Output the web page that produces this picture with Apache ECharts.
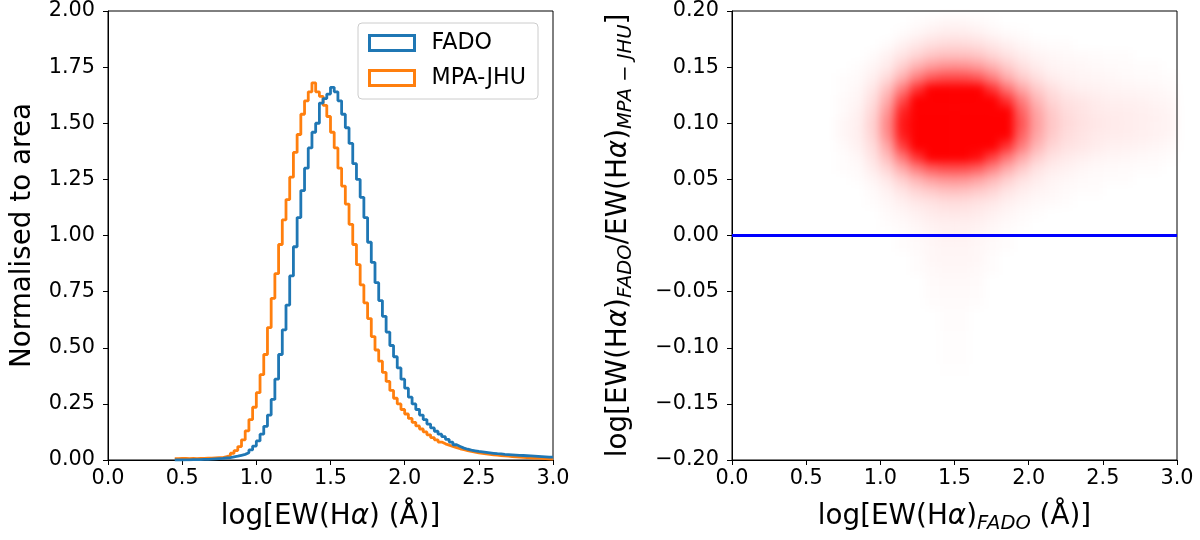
<!DOCTYPE html>
<html>
<head>
<meta charset="utf-8">
<script src="https://cdn.jsdelivr.net/npm/echarts@6/dist/echarts.min.js"></script>
<style>
html,body{margin:0;padding:0;background:#fff;}
#wrap{position:relative;width:1200px;height:540px;overflow:hidden;}
#density{position:absolute;left:0;top:0;width:1200px;height:540px;filter:blur(5px);}
#main{position:absolute;left:0;top:0;width:1200px;height:540px;}
</style>
</head>
<body>
<div id="wrap"><div id="density"></div><div id="main"></div></div>
<script>
// ---------- DATA ----------
const seriesNames = ['FADO', 'MPA-JHU'];
const binStart = 0.45;
const binWidth = 0.025;
const fadoHist = [
  0, 0, 0.001, 0.001, 0.002, 0.002, 0.002, 0.003, 0.003, 0.004,
  0.005, 0.006, 0.007, 0.009, 0.011, 0.014, 0.017, 0.021, 0.025, 0.032,
  0.045, 0.062, 0.085, 0.115, 0.150, 0.200, 0.270, 0.360, 0.470, 0.580,
  0.690, 0.820, 0.950, 1.080, 1.200, 1.300, 1.390, 1.460, 1.500, 1.590,
  1.610, 1.630, 1.660, 1.640, 1.600, 1.540, 1.480, 1.410, 1.320, 1.250,
  1.170, 1.080, 0.970, 0.880, 0.790, 0.710, 0.640, 0.570, 0.510, 0.460,
  0.410, 0.360, 0.320, 0.280, 0.250, 0.225, 0.200, 0.180, 0.160, 0.143,
  0.128, 0.115, 0.104, 0.092, 0.080, 0.068, 0.060, 0.053, 0.048, 0.044,
  0.041, 0.038, 0.036, 0.034, 0.032, 0.030, 0.028, 0.027, 0.025, 0.024,
  0.023, 0.022, 0.021, 0.020, 0.019, 0.018, 0.017, 0.016, 0.015, 0.014,
  0.013, 0.013
];
const mpaHist = [
  0.006, 0.007, 0.007, 0.006, 0.007, 0.006, 0.007, 0.007, 0.008, 0.008,
  0.009, 0.010, 0.011, 0.015, 0.020, 0.030, 0.042, 0.060, 0.090, 0.130,
  0.180, 0.235, 0.300, 0.380, 0.470, 0.590, 0.720, 0.830, 0.960, 1.070,
  1.160, 1.260, 1.370, 1.450, 1.540, 1.600, 1.640, 1.680, 1.640, 1.620,
  1.580, 1.530, 1.460, 1.390, 1.300, 1.220, 1.140, 1.050, 0.960, 0.870,
  0.780, 0.700, 0.630, 0.550, 0.490, 0.440, 0.390, 0.350, 0.310, 0.275,
  0.250, 0.225, 0.205, 0.185, 0.168, 0.152, 0.138, 0.125, 0.112, 0.100,
  0.090, 0.080, 0.072, 0.066, 0.060, 0.055, 0.050, 0.046, 0.042, 0.038,
  0.035, 0.032, 0.030, 0.027, 0.025, 0.023, 0.022, 0.020, 0.018, 0.017,
  0.015, 0.014, 0.013, 0.012, 0.011, 0.010, 0.009, 0.008, 0.007, 0.006,
  0.005, 0.004
];
// density of the right-hand scatter cloud (10 and above = solid red), cells of 0.1 x 0.01
const densityX = [0.75,0.85,0.95,1.05,1.15,1.25,1.35,1.45,1.55,1.65,1.75,1.85,1.95,2.05,2.15,2.25,2.35,2.45,2.55,2.65,2.75,2.85,2.95];
const densityY = [0.19,0.18,0.17,0.16,0.15,0.14,0.13,0.12,0.11,0.10,0.09,0.08,0.07,0.06,0.05,0.04,0.03,0.02,0.01,0.00,-0.01,-0.02,-0.03,-0.04,-0.05,-0.06,-0.07,-0.08,-0.09,-0.10,-0.11,-0.12];
const densityGrid = [
  [0,0,0,0,0,0.1,0.25,0.35,0.35,0.25,0.1,0,0,0,0,0,0,0,0,0,0,0,0],
  [0,0,0,0,0.15,0.35,0.6,0.7,0.7,0.6,0.35,0.2,0.1,0,0,0,0,0,0,0,0,0,0],
  [0,0,0,0.15,0.5,0.9,1.2,1.4,1.4,1.2,0.9,0.6,0.35,0.2,0.1,0.1,0,0,0,0,0,0,0],
  [0,0,0.15,0.5,1,1.6,2.2,2.4,2.4,2.2,1.6,1.1,0.7,0.45,0.3,0.25,0.2,0.15,0.1,0.1,0,0,0],
  [0,0.1,0.35,0.8,1.8,3,3.9,4.3,4.3,3.9,3,2,1.2,0.7,0.45,0.35,0.3,0.25,0.2,0.15,0.1,0.1,0],
  [0.1,0.2,0.6,1.4,3,5,6.5,7,7,6.5,5,3.2,2,1.2,0.7,0.5,0.4,0.35,0.3,0.25,0.2,0.15,0.1],
  [0.1,0.3,0.9,2.4,5,8,10,11,11,10,8,5.5,3.4,2,1.2,0.8,0.6,0.5,0.45,0.4,0.35,0.3,0.2],
  [0.2,0.4,1.2,3.2,7,11,13,13,13,13,11,8,5,2.8,1.6,1.1,0.9,0.7,0.6,0.55,0.5,0.4,0.3],
  [0.2,0.5,1.5,4,8.5,13,14,14,14,14,13,10,6,3.4,2,1.3,1,0.8,0.7,0.65,0.6,0.5,0.4],
  [0.3,0.6,1.7,4.5,9,13,14,14,14,14,13,10.5,6.5,3.6,2.1,1.4,1.1,0.9,0.8,0.7,0.6,0.5,0.45],
  [0.3,0.6,1.6,4.3,8.8,13,14,14,14,14,12.5,10,6,3.4,2,1.3,1,0.8,0.7,0.65,0.6,0.5,0.4],
  [0.2,0.5,1.3,3.4,7.5,11.5,13,13,13,12.5,10.5,8,5,2.8,1.6,1.1,0.9,0.7,0.55,0.5,0.45,0.35,0.25],
  [0.1,0.3,1,2.5,5.2,8,10,10.5,10.5,9.5,7.5,5.3,3.3,1.9,1.1,0.8,0.6,0.45,0.35,0.3,0.25,0.2,0.1],
  [0.1,0.2,0.7,1.6,3.2,5,6.3,6.8,6.8,6.2,4.8,3.2,2,1.1,0.7,0.5,0.35,0.25,0.2,0.15,0.1,0.1,0],
  [0,0.1,0.4,0.9,1.8,2.8,3.6,4,4,3.5,2.7,1.8,1.1,0.7,0.45,0.3,0.2,0.15,0.1,0.1,0,0,0],
  [0,0,0.2,0.5,1,1.6,2,2.3,2.3,2,1.6,1,0.65,0.45,0.3,0.2,0.1,0.1,0,0,0,0,0],
  [0,0,0.1,0.3,0.6,0.9,1.1,1.3,1.3,1.1,0.9,0.6,0.4,0.25,0.2,0.1,0,0,0,0,0,0,0],
  [0,0,0,0.2,0.35,0.55,0.75,0.85,0.85,0.75,0.55,0.35,0.2,0.1,0,0,0,0,0,0,0,0,0],
  [0,0,0,0.1,0.2,0.35,0.5,0.6,0.6,0.5,0.35,0.2,0.1,0,0,0,0,0,0,0,0,0,0],
  [0,0,0,0,0.1,0.25,0.4,0.5,0.5,0.4,0.25,0.1,0,0,0,0,0,0,0,0,0,0,0],
  [0,0,0,0,0.1,0.2,0.3,0.4,0.4,0.3,0.2,0.1,0,0,0,0,0,0,0,0,0,0,0],
  [0,0,0,0,0,0.1,0.3,0.35,0.35,0.3,0.1,0,0,0,0,0,0,0,0,0,0,0,0],
  [0,0,0,0,0,0.1,0.25,0.3,0.3,0.25,0.1,0,0,0,0,0,0,0,0,0,0,0,0],
  [0,0,0,0,0,0,0.2,0.25,0.25,0.2,0,0,0,0,0,0,0,0,0,0,0,0,0],
  [0,0,0,0,0,0,0.15,0.2,0.2,0.15,0,0,0,0,0,0,0,0,0,0,0,0,0],
  [0,0,0,0,0,0,0.1,0.15,0.15,0.1,0,0,0,0,0,0,0,0,0,0,0,0,0],
  [0,0,0,0,0,0,0,0.12,0.12,0,0,0,0,0,0,0,0,0,0,0,0,0,0],
  [0,0,0,0,0,0,0,0.1,0.1,0,0,0,0,0,0,0,0,0,0,0,0,0,0],
  [0,0,0,0,0,0,0,0.08,0.08,0,0,0,0,0,0,0,0,0,0,0,0,0,0],
  [0,0,0,0,0,0,0,0.08,0.08,0,0,0,0,0,0,0,0,0,0,0,0,0,0],
  [0,0,0,0,0,0,0,0.06,0.06,0,0,0,0,0,0,0,0,0,0,0,0,0,0],
  [0,0,0,0,0,0,0,0.05,0.05,0,0,0,0,0,0,0,0,0,0,0,0,0,0]
];
const zeroLineX = [0, 3];
const zeroLineY = [0, 0];
const xTicks = {min: 0, max: 3, interval: 0.5};
const yTicksLeft = {min: 0, max: 2, interval: 0.25};
const yTicksRight = {min: -0.2, max: 0.2, interval: 0.05};

// ---------- LAYOUT / STYLE ----------
const FONT = 'DejaVu Sans';
const TICK_FS = 20.8;
const LABEL_FS = 27.8;
const SUB_FS = 19.5;
const colors = ['#1f77b4', '#ff7f0e'];
const G1 = {left: 108, top: 11, width: 445, height: 449};
const G2 = {left: 732, top: 11, width: 445, height: 449};

const rich = {
  n: {fontFamily: FONT, fontSize: LABEL_FS, color: '#000', lineHeight: 34},
  a: {fontFamily: FONT, fontSize: LABEL_FS, fontStyle: 'italic', color: '#000', lineHeight: 34},
  s: {fontFamily: FONT, fontSize: SUB_FS, fontStyle: 'italic', color: '#000', verticalAlign: 'bottom'}
};

function stepData(hist) {
  const pts = [];
  for (let i = 0; i < hist.length; i++) {
    pts.push([+(binStart + i * binWidth).toFixed(4), hist[i]]);
  }
  pts.push([+(binStart + hist.length * binWidth).toFixed(4), hist[hist.length - 1]]);
  return pts;
}
function fmtMinus(v, d) {
  const s = Math.abs(v) < 1e-9 ? (0).toFixed(d) : v.toFixed(d);
  return s.replace('-', '\u2212');
}
function xAxisCfg(gi, name) {
  return {
    type: 'value', gridIndex: gi, min: xTicks.min, max: xTicks.max, interval: xTicks.interval,
    name: name, nameLocation: 'middle', nameGap: 40,
    nameTextStyle: {fontFamily: FONT, fontSize: LABEL_FS, color: '#000', rich: rich},
    axisLine: {show: true, onZero: false, lineStyle: {color: '#000', width: 1}},
    axisTick: {show: true, length: 5, lineStyle: {color: '#000', width: 1}},
    axisLabel: {fontFamily: FONT, fontSize: TICK_FS, color: '#000', margin: 8,
      formatter: v => fmtMinus(v, 1)},
    splitLine: {show: false}
  };
}
function yAxisCfg(gi, t, name, gap) {
  return {
    type: 'value', gridIndex: gi, min: t.min, max: t.max, interval: t.interval,
    name: name, nameLocation: 'middle', nameGap: gap,
    nameTextStyle: {fontFamily: FONT, fontSize: LABEL_FS, color: '#000', rich: rich},
    axisLine: {show: true, onZero: false, lineStyle: {color: '#000', width: 1}},
    axisTick: {show: true, length: 5, lineStyle: {color: '#000', width: 1}},
    axisLabel: {fontFamily: FONT, fontSize: TICK_FS, color: '#000', margin: 13,
      formatter: v => fmtMinus(v, 2)},
    splitLine: {show: false}
  };
}

// ---------- MAIN CHART ----------
const main = echarts.init(document.getElementById('main'), null, {renderer: 'canvas'});
main.setOption({
  animation: false,
  backgroundColor: 'transparent',
  grid: [
    Object.assign({show: true, borderColor: '#000', borderWidth: 1, backgroundColor: 'transparent'}, G1),
    Object.assign({show: true, borderColor: '#000', borderWidth: 1, backgroundColor: 'transparent'}, G2)
  ],
  xAxis: [
    xAxisCfg(0, '{n|log[EW(H}{a|\u03b1}{n|) (\u00c5)]}'),
    xAxisCfg(1, '{n|log[EW(H}{a|\u03b1}{n|)}{s|FADO}{n| (\u00c5)]}')
  ],
  yAxis: [
    yAxisCfg(0, yTicksLeft, '{n|Normalised to area}', 68),
    yAxisCfg(1, yTicksRight, '{n|log[EW(H}{a|\u03b1}{n|)}{s|FADO}{n|/EW(H}{a|\u03b1}{n|)}{s|MPA \u2212 JHU}{n|]}', 96)
  ],
  legend: {
    orient: 'vertical', left: 358, top: 23,
    padding: [9, 12, 10, 10], itemGap: 13, itemWidth: 45, itemHeight: 15,
    borderColor: '#cccccc', borderWidth: 1, borderRadius: 4,
    backgroundColor: 'rgba(255,255,255,0.8)',
    selectedMode: false,
    textStyle: {fontFamily: FONT, fontSize: 22.2, color: '#000', lineHeight: 20, padding: [0, 0, 0, 12]},
    data: seriesNames.map((n, i) => ({
      name: n, icon: 'rect',
      itemStyle: {color: 'rgba(0,0,0,0)', borderColor: colors[i], borderWidth: 3}
    }))
  },
  series: [
    {
      name: seriesNames[0], type: 'line', xAxisIndex: 0, yAxisIndex: 0,
      step: 'end', symbol: 'none', data: stepData(fadoHist),
      lineStyle: {color: colors[0], width: 2.8}, itemStyle: {color: colors[0]}, z: 3
    },
    {
      name: seriesNames[1], type: 'line', xAxisIndex: 0, yAxisIndex: 0,
      step: 'end', symbol: 'none', data: stepData(mpaHist),
      lineStyle: {color: colors[1], width: 2.8}, itemStyle: {color: colors[1]}, z: 2
    },
    {
      name: 'zero', type: 'line', xAxisIndex: 1, yAxisIndex: 1, symbol: 'none',
      data: zeroLineX.map((x, i) => [x, zeroLineY[i]]),
      lineStyle: {color: '#0000ff', width: 3}, z: 5
    }
  ]
});

// ---------- DENSITY CLOUD (underneath, softened) ----------
const densityPts = [];
densityGrid.forEach((row, r) => {
  row.forEach((v, c) => { if (v > 0) densityPts.push([densityX[c], densityY[r], v]); });
});
const cellW = G2.width * (densityX[1] - densityX[0]) / (xTicks.max - xTicks.min);
const cellH = G2.height * (densityY[0] - densityY[1]) / (yTicksRight.max - yTicksRight.min);
const dens = echarts.init(document.getElementById('density'), null, {renderer: 'canvas'});
dens.setOption({
  animation: false,
  grid: [Object.assign({show: false}, G2)],
  xAxis: [{type: 'value', min: xTicks.min, max: xTicks.max, show: false}],
  yAxis: [{type: 'value', min: yTicksRight.min, max: yTicksRight.max, show: false}],
  series: [{
    type: 'scatter', symbol: 'rect', symbolSize: [cellW + 0.6, cellH + 0.6], silent: true,
    data: densityPts,
    itemStyle: {opacity: 1, color: p => 'rgba(255,0,0,' + Math.min(1, p.value[2] / 10).toFixed(3) + ')'}
  }]
});
</script>
</body>
</html>
